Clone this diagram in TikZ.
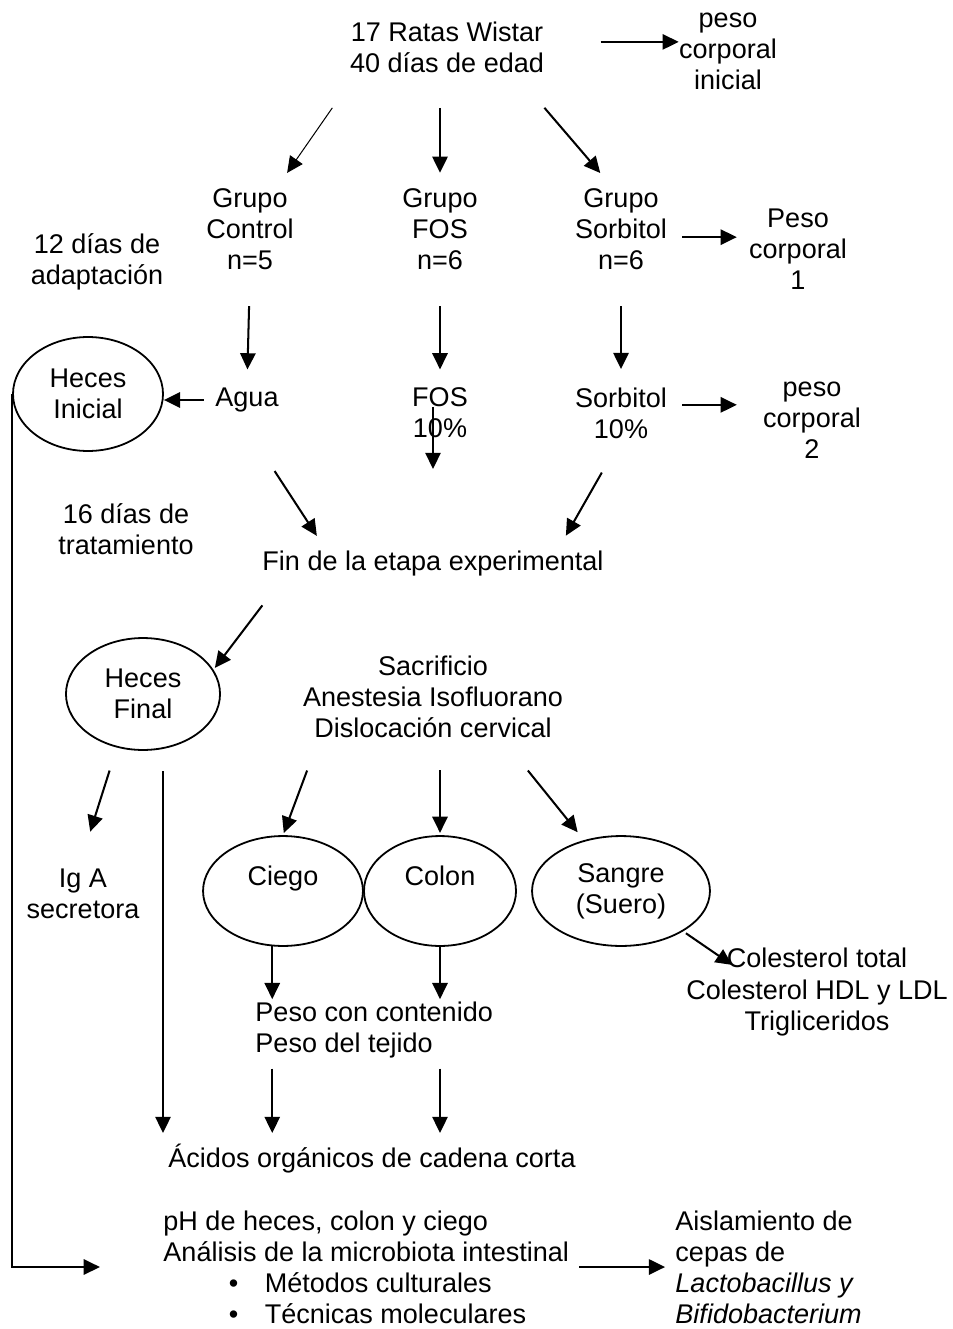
\documentclass[tikz,border=0pt]{standalone}
\usepackage{fontspec}
\setmainfont{Liberation Sans}
\usetikzlibrary{shapes.geometric, arrows.meta}

\newcommand{\vineta}{\makebox[45pt][l]{\hspace{29pt}\textbullet}}

\begin{document}
\begin{tikzpicture}[x=0.444pt, y=-0.444pt,
    texto/.style={align=center, inner sep=0pt, font=\fontsize{12}{13.8}\selectfont},
    izq/.style={texto, align=left, anchor=west},
    elipse/.style={texto, draw, ellipse, line width=0.8pt},
    flecha/.style={-{Triangle[length=7.2pt,width=6.8pt]}, line width=0.9pt},
    fina/.style={flecha, line width=0.45pt}]
    \useasboundingbox (0,0) rectangle (952,1329);

    % 开始: 大鼠与分组
    \node[texto] (ratas) at (447,47) {17 Ratas Wistar\\40 días de edad};
    \node[texto] (pesoini) at (728,51) {peso\\corporal\\inicial};
    \node[texto] (control) at (250,229) {Grupo\\Control\\n=5};
    \node[texto] (fos) at (440,229) {Grupo\\FOS\\n=6};
    \node[texto] (sorbitol) at (621,229) {Grupo\\Sorbitol\\n=6};
    \node[texto] (adapt) at (97,262) {12 días de\\adaptación};
    \node[texto] (peso1) at (798,249) {Peso\\corporal\\1};

    % 饮水处理
    \node[elipse, minimum width=66.6pt, minimum height=50.6pt] (hinicial) at (88,394) {Heces\\Inicial};
    \node[texto] (agua) at (247,400) {Agua};
    \node[texto] (fos10) at (440,413) {FOS\\10\%};
    \node[texto] (sorb10) at (621,413) {Sorbitol\\10\%};
    \node[texto] (peso2) at (812,420) {peso\\corporal\\2};
    \node[texto] (trat) at (126,529) {16 días de\\tratamiento};
    \node[texto] (fin) at (433,564) {Fin de la etapa experimental};

    % 实验结束后
    \node[elipse, minimum width=68.4pt, minimum height=49.7pt] (hfinal) at (143,694) {Heces\\Final};
    \node[texto] (sacrif) at (433,697) {Sacrificio\\Anestesia Isofluorano\\Dislocación cervical};
    \node[texto] (iga) at (83,894) {Ig A\\secretora};
    \node[elipse, minimum width=71pt, minimum height=48.8pt] (ciego) at (283,891) {Ciego\\\mbox{}};
    \node[elipse, minimum width=67.5pt, minimum height=48.8pt] (colon) at (440,891) {Colon\\\mbox{}};
    \node[elipse, minimum width=79pt, minimum height=48.8pt] (sangre) at (621,891) {Sangre\\(Suero)};
    \node[texto] (colest) at (817,992) {Colesterol total\\Colesterol HDL y LDL\\Trigliceridos};
    \coordinate (colini) at ([shift={(-85,17)}]colest.north);
    \node[izq] (peso) at (255,1030) {Peso con contenido\\Peso del tejido};
    \node[izq] (acidos) at (168,1159) {Ácidos orgánicos de cadena corta};
    \node[izq] (analisis) at (163,1267) {pH de heces, colon y ciego\\Análisis de la microbiota intestinal\\\vineta Métodos culturales\\\vineta Técnicas moleculares};
    \node[izq] (aislam) at (675,1267) {Aislamiento de\\cepas de\\\textit{Lactobacillus y}\\\textit{Bifidobacterium}};

    % 箭头
    \draw[flecha, shorten <=25pt] (ratas.3) -- (ratas.3 -| pesoini.west);
    \draw[fina, shorten <=18.9pt, shorten >=8.1pt] (ratas.196) -- (control.57);
    \draw[flecha, shorten <=15.5pt, shorten >=6.7pt] (fos.north |- ratas.south) -- (fos.north);
    \draw[flecha, shorten <=20.4pt, shorten >=8.7pt] (ratas.-21) -- (sorbitol.101);
    \draw[flecha, shorten <=6.7pt, shorten >=5.3pt] (sorbitol.-10) -- (sorbitol.-10 -| peso1.west);

    \draw[flecha, shorten <=16pt, shorten >=8pt] (control.south) -- (agua.north);
    \draw[flecha, shorten <=16pt, shorten >=8pt] (fos.south) -- (fos10.north);
    \draw[flecha, shorten <=16pt, shorten >=8pt] (sorbitol.south) -- (sorb10.north);
    \draw[flecha, shorten <=5.1pt] (agua.west) -- (agua.west -| hinicial.east);
    \draw[flecha, shorten <=6.7pt, shorten >=11.5pt] (sorb10.10) -- (sorb10.10 -| peso2.west);
    \draw[flecha, shorten <=8.9pt, shorten >=36.4pt] (fin.north |- fos10.north) -- (fin.north);
    \draw[flecha, shorten <=31pt, shorten >=8pt] (agua.230) -- (fin.173);
    \draw[flecha, shorten <=17.2pt, shorten >=7.8pt] (sorb10.south) -- (fin.6);

    \draw[flecha, shorten <=15.8pt, shorten >=1pt] (fin.185) -- (hfinal.19);
    \draw[flecha, shorten <=10.7pt, shorten >=17.2pt] (hfinal.244) -- (iga.100);
    \draw[flecha, shorten <=9.8pt, shorten >=4.9pt] (hfinal.-70) -- (hfinal.-70 |- acidos.north);
    \draw[flecha, shorten <=15.2pt, shorten >=1pt] (sacrif.200) -- (ciego.north);
    \draw[flecha, shorten <=14.2pt, shorten >=1pt] (colon.north |- sacrif.south) -- (colon.north);
    \draw[flecha, shorten <=18.3pt, shorten >=4.5pt] (sacrif.-31) -- (sangre.126);
    \draw[flecha, shorten <=1.5pt] (sangre.-33) -- (colini);

    \draw[flecha, shorten >=1pt] (ciego.-101) -- (ciego.-101 |- peso.north);
    \draw[flecha, shorten >=1pt] (colon.south) -- (colon.south |- peso.north);
    \draw[flecha, shorten <=4.4pt, shorten >=4.9pt] (ciego.-101 |- peso.south) -- (ciego.-101 |- acidos.north);
    \draw[flecha, shorten <=4.4pt, shorten >=4.9pt] (colon.south |- peso.south) -- (colon.south |- acidos.north);

    \draw[flecha, shorten >=28pt] (hinicial.west) |- (analisis.west);
    \draw[flecha, shorten <=4.4pt, shorten >=4.4pt] (analisis.east) -- (analisis.east -| aislam.west);
\end{tikzpicture}
\end{document}
